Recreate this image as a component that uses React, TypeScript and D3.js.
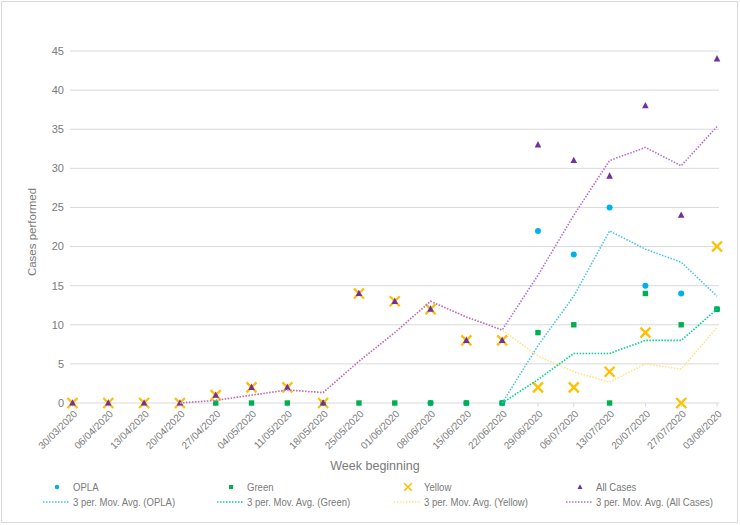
import React from 'react';
import * as d3 from 'd3';

const weeks = [
  '30/03/2020', '06/04/2020', '13/04/2020', '20/04/2020', '27/04/2020', '04/05/2020',
  '11/05/2020', '18/05/2020', '25/05/2020', '01/06/2020', '08/06/2020', '15/06/2020',
  '22/06/2020', '29/06/2020', '06/07/2020', '13/07/2020', '20/07/2020', '27/07/2020', '03/08/2020',
];

// null = no value recorded that week
const opla = [null, null, null, null, null, null, null, null, null, null, 0, 0, 0, 22, 19, 25, 15, 14, 12];
const green = [null, null, null, null, 0, 0, 0, 0, 0, 0, 0, 0, 0, 9, 10, 0, 14, 10, 12];
const yellow = [0, 0, 0, 0, 1, 2, 2, 0, 14, 13, 12, 8, 8, 2, 2, 4, 9, 0, 20];
const allCases = [0, 0, 0, 0, 1, 2, 2, 0, 14, 13, 12, 8, 8, 33, 31, 29, 38, 24, 44];

const yTicks = [0, 5, 10, 15, 20, 25, 30, 35, 40, 45];

const FONT = '"Liberation Sans", Arial, sans-serif';
const GREY = '#7a7a7a';

// 3 period trailing moving average, drawn from index `from`
function movingAvg(vals, from) {
  const out = [];
  vals.forEach((v, i) => {
    if (i < from || i < 2) return;
    const win = vals.slice(i - 2, i + 1);
    if (win.some((w) => w == null)) return;
    out.push({ i, v: d3.mean(win) });
  });
  return out;
}

const W = 740;
const H = 525;

export default function App() {
  const x = d3.scalePoint().domain(weeks).range([72.5, 717]);
  const y = d3.scaleLinear().domain([0, 45]).range([403, 51]);

  const line = d3
    .line()
    .x((d) => x(weeks[d.i]))
    .y((d) => y(d.v));

  const trends = [
    { data: movingAvg(yellow, 3), color: '#FFE38A' },
    { data: movingAvg(opla, 12), color: '#4FC3F0' },
    { data: movingAvg(green, 12), color: '#00D38A' },
    { data: movingAvg(allCases, 3), color: '#B46FD6' },
  ];

  const pts = (vals) =>
    vals.map((v, i) => ({ v, i })).filter((d) => d.v != null);

  const circle = (cx, cy, k, s = 1) => <circle key={k} cx={cx} cy={cy} r={3 * s} fill="#00B0F0" />;
  const square = (cx, cy, k, s = 1) => (
    <rect key={k} x={cx - 2.7 * s} y={cy - 2.7 * s} width={5.4 * s} height={5.4 * s} fill="#00B050" />
  );
  const cross = (cx, cy, k, s = 1) => {
    const r = 5 * s;
    return (
      <path
        key={k}
        d={`M${cx - r},${cy - r}L${cx + r},${cy + r}M${cx + r},${cy - r}L${cx - r},${cy + r}`}
        stroke="#FFC000"
        strokeWidth={2.3 * s}
      />
    );
  };
  const tri = (cx, cy, k, s = 1) => (
    <path
      key={k}
      d={`M${cx},${cy - 3.8 * s}L${cx + 3.3 * s},${cy + 2.6 * s}L${cx - 3.3 * s},${cy + 2.6 * s}Z`}
      fill="#7030A0"
    />
  );

  const legendCols = [57, 231, 408, 580];
  const legendItems = [
    { name: 'OPLA', mark: circle, color: '#4FC3F0' },
    { name: 'Green', mark: square, color: '#00D38A' },
    { name: 'Yellow', mark: cross, color: '#FFE38A' },
    { name: 'All Cases', mark: tri, color: '#B46FD6' },
  ];

  return (
    <div style={{ position: 'absolute', left: 0, top: 0 }}>
      <svg width={W} height={H} style={{ display: 'block', background: '#fff' }} fontFamily={FONT}>
        <rect x={1.5} y={1.5} width={736} height={521} fill="none" stroke="#D9D9D9" />

        {yTicks.map((t) => (
          <g key={t}>
            <line x1={70} x2={719} y1={y(t)} y2={y(t)} stroke="#D9D9D9" strokeWidth={1} />
            <text x={64} y={y(t)} dy="0.35em" textAnchor="end" fontSize={11} fill={GREY}>
              {t}
            </text>
          </g>
        ))}

        {weeks.map((w) => (
          <g key={w}>
            <line x1={x(w)} x2={x(w)} y1={403} y2={407} stroke="#D9D9D9" />
            <text
              transform={`translate(${x(w) + 3},${412}) rotate(-45)`}
              textAnchor="end"
              dy="0.35em"
              fontSize={10}
              fill={GREY}
            >
              {w}
            </text>
          </g>
        ))}

        <text
          transform={`translate(36,232) rotate(-90)`}
          textAnchor="middle"
          fontSize={11.5}
          fill={GREY}
        >
          Cases performed
        </text>
        <text x={375} y={470} textAnchor="middle" fontSize={12.5} fill={GREY}>
          Week beginning
        </text>

        {pts(opla).map((d) => circle(x(weeks[d.i]), y(d.v), 'o' + d.i))}
        {pts(green).map((d) => square(x(weeks[d.i]), y(d.v), 'g' + d.i))}
        {pts(yellow).map((d) => cross(x(weeks[d.i]), y(d.v), 'y' + d.i))}
        {pts(allCases).map((d) => tri(x(weeks[d.i]), y(d.v), 'a' + d.i))}

        {trends.map((t, k) => (
          <path
            key={k}
            d={line(t.data)}
            fill="none"
            stroke={t.color}
            strokeWidth={1.6}
            strokeDasharray="1.5 1.5"
          />
        ))}

        {legendItems.map((it, k) => (
          <g key={it.name}>
            {it.mark(legendCols[k], 487, 'lm' + k, 0.75)}
            <text
              transform={`translate(${legendCols[k] + 16},487) scale(0.87,1)`}
              dy="0.35em"
              fontSize={11}
              fill={GREY}
            >
              {it.name}
            </text>
            <line
              x1={legendCols[k] - 14}
              x2={legendCols[k] + 12}
              y1={502}
              y2={502}
              stroke={it.color}
              strokeWidth={1.6}
              strokeDasharray="1.5 1.5"
            />
            <text
              transform={`translate(${legendCols[k] + 16},502) scale(0.87,1)`}
              dy="0.35em"
              fontSize={11}
              fill={GREY}
            >
              {`3 per. Mov. Avg. (${it.name})`}
            </text>
          </g>
        ))}
      </svg>
    </div>
  );
}
